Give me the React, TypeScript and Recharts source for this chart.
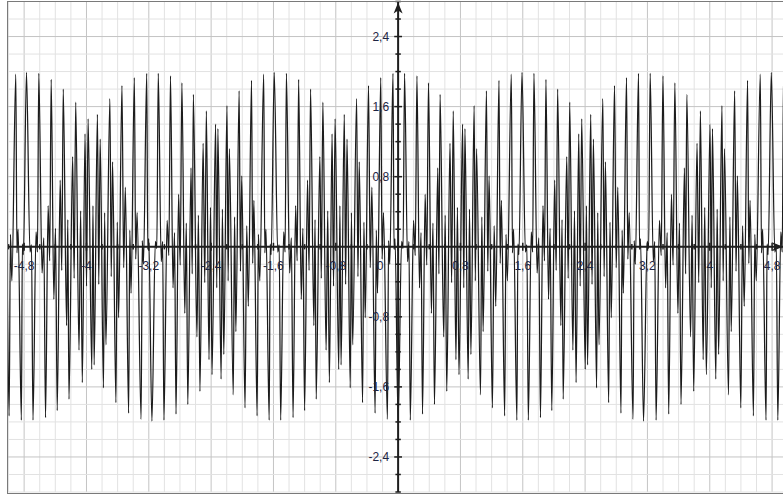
import React from 'react';
import { LineChart, Line, XAxis, YAxis, ReferenceLine, ReferenceDot } from 'recharts';

// centres of the quiet zones where the small wiggles sit
const nullCenters = [-6.36, -4.77, -3.16, -1.59, 0.0, 1.59, 3.15, 4.79, 6.39];
const tileSigns = [-1, 1, -1, 1, -1, 1, -1, 1];

// one beat of the curve, offsets from a quiet zone (units) and the value of each corner
const beatOffsets = [
    0.000, 0.045, 0.064, 0.083, 0.122, 0.140, 0.157, 0.199, 0.221, 0.243,
    0.276, 0.296, 0.315, 0.349, 0.370, 0.392, 0.430, 0.450, 0.469, 0.512,
    0.527, 0.542, 0.589, 0.608, 0.628, 0.670, 0.691, 0.712, 0.747, 0.766,
    0.786, 0.833, 0.848, 0.863, 0.905, 0.922, 0.940, 0.982, 0.997, 1.013,
    1.064, 1.081, 1.098, 1.141, 1.158, 1.175, 1.218, 1.240, 1.261, 1.303,
    1.318, 1.334, 1.376, 1.393, 1.411, 1.462, 1.477, 1.492, 1.534, 1.547,
    1.560,
];
const beatValues = [
    1.99, -0.06, 0.02, -1.98, 0.17, -0.06, 1.98, -0.30, 0.10, -1.95,
    0.47, -0.16, 1.91, -0.60, 0.21, -1.87, 0.76, -0.27, 1.80, -0.90,
    0.31, -1.74, 1.03, -0.36, 1.65, -1.18, 0.41, -1.55, 1.29, -0.45,
    1.46, -1.40, 0.47, -1.35, 1.51, -0.43, 1.23, -1.61, 0.39, -1.12,
    1.69, -0.34, 0.97, -1.78, 0.28, -0.81, 1.84, -0.24, 0.68, -1.90,
    0.19, -0.53, 1.93, -0.14, 0.39, -1.97, 0.07, -0.20, 1.98, -0.03,
    0.09,
];

const xTicks = [-4.8, -4, -3.2, -2.4, -1.6, -0.8, 0.8, 1.6, 2.4, 3.2, 4, 4.8];
const xTickLabels = ['-4,8', '-4', '-3,2', '-2,4', '-1,6', '-0,8', '0,8', '1,6', '2,4', '3,2', '4', '4,8'];
const yTicks = [2.4, 1.6, 0.8, -0.8, -1.6, -2.4];
const yTickLabels = ['2,4', '1,6', '0,8', '-0,8', '-1,6', '-2,4'];

const X_MIN = -5.02;
const X_MAX = 4.94;
const Y_MIN = -2.8;
const Y_MAX = 2.8;

const data: { x: number; y: number }[] = [];
tileSigns.forEach((s, k) => {
    const start = nullCenters[k];
    const stretch = (nullCenters[k + 1] - start) / 1.6;
    beatOffsets.forEach((off, j) => {
        const x = start + off * stretch;
        if (x > X_MIN - 0.2 && x < X_MAX + 0.2) data.push({ x, y: s * beatValues[j] });
    });
});

const gridX: number[] = [];
for (let i = -25; i <= 24; i++) gridX.push(Math.round(i * 2) / 10);
const gridY: number[] = [];
for (let i = -14; i <= 14; i++) gridY.push(Math.round(i * 2) / 10);
const isMajor = (v: number) => Math.abs(Math.round(v / 0.8) * 0.8 - v) < 1e-6;

const AXIS = '#1e1e1e';
const LABEL = '#1d2442';
const FONT = '"Liberation Sans", Arial, sans-serif';

export default function App() {
    return (
        <div style={{ position: 'absolute', left: 0, top: 0, background: '#fff' }}>
            <LineChart width={783} height={496} data={data} margin={{ top: 1.5, right: 0, left: 7, bottom: 4 }}>
                <XAxis hide type="number" dataKey="x" domain={[X_MIN, X_MAX]} allowDataOverflow />
                <YAxis hide type="number" domain={[Y_MIN, Y_MAX]} allowDataOverflow />
                {gridX.map((v) => (
                    <ReferenceLine key={'gx' + v} x={v} stroke={isMajor(v) ? '#c4c4c4' : '#e2e2e2'} strokeWidth={1} />
                ))}
                {gridY.map((v) => (
                    <ReferenceLine key={'gy' + v} y={v} stroke={isMajor(v) ? '#c4c4c4' : '#e2e2e2'} strokeWidth={1} />
                ))}
                <Line
                    type="monotone"
                    dataKey="y"
                    stroke="#1c1c1c"
                    strokeWidth={1.25}
                    dot={false}
                    isAnimationActive={false}
                />
                <ReferenceLine y={0} stroke={AXIS} strokeWidth={2} />
                <ReferenceLine x={0} stroke={AXIS} strokeWidth={2} />
                {gridX.map((v) => (
                    <ReferenceLine
                        key={'tx' + v}
                        segment={[{ x: v, y: isMajor(v) ? -0.045 : -0.03 }, { x: v, y: isMajor(v) ? 0.045 : 0.03 }]}
                        stroke={AXIS}
                        strokeWidth={1.5}
                    />
                ))}
                {gridY.map((v) => (
                    <ReferenceLine
                        key={'ty' + v}
                        segment={[{ x: isMajor(v) ? -0.05 : -0.035, y: v }, { x: isMajor(v) ? 0.05 : 0.035, y: v }]}
                        stroke={AXIS}
                        strokeWidth={1.5}
                    />
                ))}
                {xTicks.map((v, i) => (
                    <ReferenceDot
                        key={'lx' + v}
                        x={v}
                        y={0}
                        r={0}
                        shape={(p: any) => (
                            <text x={p.cx} y={p.cy + 23} textAnchor="middle" fontSize={12} fontFamily={FONT} fill={LABEL}>
                                {xTickLabels[i]}
                            </text>
                        )}
                    />
                ))}
                <ReferenceDot
                    x={0}
                    y={0}
                    r={0}
                    shape={(p: any) => (
                        <text x={p.cx - 18} y={p.cy + 23} textAnchor="middle" fontSize={12} fontFamily={FONT} fill={LABEL}>
                            0
                        </text>
                    )}
                />
                {yTicks.map((v, i) => (
                    <ReferenceDot
                        key={'ly' + v}
                        x={0}
                        y={v}
                        r={0}
                        shape={(p: any) => (
                            <text x={p.cx - 9} y={p.cy + 4} textAnchor="end" fontSize={12} fontFamily={FONT} fill={LABEL}>
                                {yTickLabels[i]}
                            </text>
                        )}
                    />
                ))}
                <ReferenceDot
                    x={0}
                    y={Y_MAX}
                    r={0}
                    shape={(p: any) => (
                        <path d={`M${p.cx},${p.cy + 1} L${p.cx - 4.5},${p.cy + 12} L${p.cx},${p.cy + 9} L${p.cx + 4.5},${p.cy + 12} Z`} fill={AXIS} />
                    )}
                />
                <ReferenceDot
                    x={X_MAX}
                    y={0}
                    r={0}
                    ifOverflow="visible"
                    shape={(p: any) => (
                        <path d={`M${p.cx},${p.cy} L${p.cx - 11},${p.cy - 4.5} L${p.cx - 8},${p.cy} L${p.cx - 11},${p.cy + 4.5} Z`} fill={AXIS} />
                    )}
                />
            </LineChart>
            <div
                style={{
                    position: 'absolute',
                    left: 7,
                    top: 1,
                    width: 780,
                    height: 491,
                    border: '1px solid #7a7a7a',
                    borderRight: 'none',
                    pointerEvents: 'none',
                }}
            />
        </div>
    );
}
